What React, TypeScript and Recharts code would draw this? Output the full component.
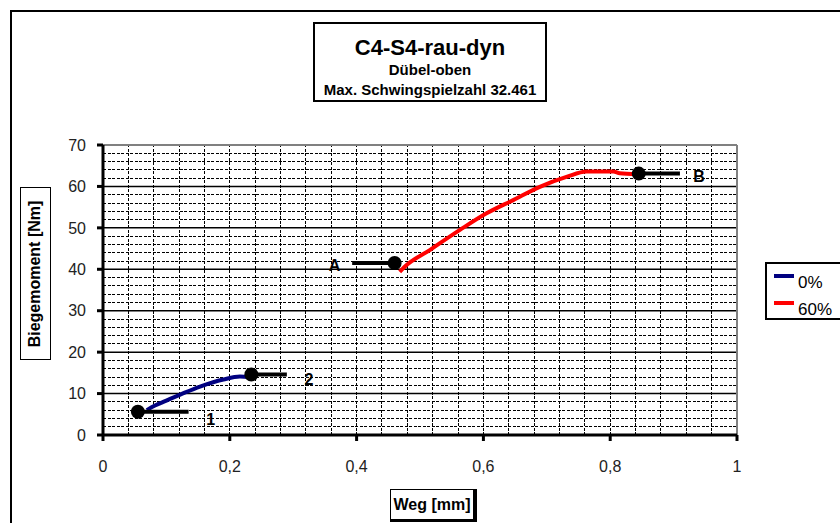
import React from 'react';
import {
  ComposedChart,
  Line,
  Scatter,
  XAxis,
  YAxis,
  ReferenceLine,
} from 'recharts';

// Weg [mm] vs. Biegemoment [Nm]
const blueSeries = [
  { x: 0.069, y: 6.0 },
  { x: 0.082, y: 7.1 },
  { x: 0.095, y: 8.0 },
  { x: 0.121, y: 9.7 },
  { x: 0.153, y: 11.7 },
  { x: 0.19, y: 13.4 },
  { x: 0.216, y: 14.1 },
  { x: 0.232, y: 13.9 },
];

const redSeries = [
  { x: 0.468, y: 39.4 },
  { x: 0.475, y: 40.5 },
  { x: 0.516, y: 44.7 },
  { x: 0.563, y: 49.5 },
  { x: 0.605, y: 53.5 },
  { x: 0.647, y: 56.7 },
  { x: 0.689, y: 59.9 },
  { x: 0.731, y: 62.3 },
  { x: 0.763, y: 63.6 },
  { x: 0.805, y: 63.6 },
  { x: 0.815, y: 63.2 },
  { x: 0.842, y: 63.0 },
];

// marked points with their leader line end and label spot
const markers = [
  { name: '1', x: 0.055, y: 5.6, lineTo: 0.135, labelX: 0.17, labelY: 3.8 },
  { name: '2', x: 0.234, y: 14.6, lineTo: 0.29, labelX: 0.325, labelY: 13.4 },
  { name: 'A', x: 0.46, y: 41.5, lineTo: 0.393, labelX: 0.365, labelY: 40.8 },
  { name: 'B', x: 0.845, y: 63.1, lineTo: 0.91, labelX: 0.94, labelY: 62.3 },
];

const legendItems = [
  { label: '0%', color: '#000080' },
  { label: '60%', color: '#ff0000' },
];

const xTicks = [0, 0.2, 0.4, 0.6, 0.8, 1];
const yTicks = [0, 10, 20, 30, 40, 50, 60, 70];

// excel-style grid: dashed every 2 Nm / 0.04 mm, solid every 10 Nm
const minorY: number[] = [];
for (let v = 2; v < 70; v += 2) if (v % 10 !== 0) minorY.push(v);
const minorX: number[] = [];
for (let i = 1; i < 25; i++) minorX.push(+(i * 0.04).toFixed(2));
const majorY = [10, 20, 30, 40, 50, 60];

const font = 'Arial, "Liberation Sans", sans-serif';

const labelPoints = markers.map((m) => ({ x: m.labelX, y: m.labelY, name: m.name }));

export default function App() {
  return (
    <div
      style={{
        position: 'absolute',
        left: 0,
        top: 0,
        width: 840,
        height: 523,
        overflow: 'hidden',
        background: '#fff',
        fontFamily: font,
      }}
    >
      <div
        style={{
          position: 'absolute',
          left: 10,
          top: 10,
          width: 900,
          height: 600,
          borderLeft: '2px solid #000',
          borderTop: '2px solid #000',
        }}
      />
      <ComposedChart
        width={840}
        height={523}
        margin={{ top: 145, right: 103, bottom: 58, left: 63 }}
        style={{ position: 'absolute', left: 0, top: 0 }}
      >
        <XAxis
          type="number"
          dataKey="x"
          domain={[0, 1]}
          ticks={xTicks}
          allowDataOverflow
          tickFormatter={(v: number) => String(v).replace('.', ',')}
          tick={{ fontSize: 16, fill: '#222', fontFamily: font }}
          tickSize={6}
          tickMargin={20}
          height={30}
          axisLine={{ stroke: '#000', strokeWidth: 3 }}
          tickLine={{ stroke: '#000', strokeWidth: 3 }}
        />
        <YAxis
          type="number"
          dataKey="y"
          domain={[0, 70]}
          ticks={yTicks}
          allowDataOverflow
          tick={{ fontSize: 16, fill: '#222', fontFamily: font }}
          tickSize={6}
          tickMargin={11}
          width={40}
          axisLine={{ stroke: '#000', strokeWidth: 3 }}
          tickLine={{ stroke: '#000', strokeWidth: 3 }}
        />
        {minorY.map((v) => (
          <ReferenceLine
            key={'hy' + v}
            y={v}
            stroke="#000"
            strokeWidth={1}
            strokeDasharray="3 1.5"
            shapeRendering="crispEdges"
          />
        ))}
        {minorX.map((v) => (
          <ReferenceLine
            key={'vx' + v}
            x={v}
            stroke="#000"
            strokeWidth={1}
            strokeDasharray="3 1.5"
            shapeRendering="crispEdges"
          />
        ))}
        {majorY.map((v) => (
          <ReferenceLine key={'my' + v} y={v} stroke="#000" strokeWidth={1.5} />
        ))}
        <ReferenceLine y={70} stroke="#808080" strokeWidth={2} />
        <ReferenceLine x={1} stroke="#808080" strokeWidth={2} />
        <Line
          data={blueSeries}
          dataKey="y"
          stroke="#000080"
          strokeWidth={4}
          dot={false}
          type="monotone"
          isAnimationActive={false}
        />
        <Line
          data={redSeries}
          dataKey="y"
          stroke="#ff0000"
          strokeWidth={4}
          dot={false}
          type="monotone"
          isAnimationActive={false}
        />
        {markers.map((m) => (
          <ReferenceLine
            key={'seg' + m.name}
            segment={[
              { x: m.x, y: m.y },
              { x: m.lineTo, y: m.y },
            ]}
            stroke="#000"
            strokeWidth={4}
          />
        ))}
        <Scatter
          data={markers}
          fill="#000"
          isAnimationActive={false}
          shape={(p: any) => <circle cx={p.cx} cy={p.cy} r={7} fill="#000" />}
        />
        <Scatter
          data={labelPoints}
          isAnimationActive={false}
          shape={(p: any) => (
            <text
              x={p.cx}
              y={p.cy}
              textAnchor="middle"
              dominantBaseline="central"
              fontSize={16}
              fontWeight="bold"
              fontFamily={font}
              fill="#000"
            >
              {p.payload.name}
            </text>
          )}
        />
      </ComposedChart>

      {/* title box */}
      <div
        style={{
          position: 'absolute',
          left: 313,
          top: 22,
          width: 230,
          height: 76,
          border: '2px solid #000',
          background: '#fff',
          textAlign: 'center',
          fontWeight: 'bold',
        }}
      >
        <div style={{ fontSize: 22, lineHeight: '24px', marginTop: 12 }}>C4-S4-rau-dyn</div>
        <div style={{ fontSize: 15, lineHeight: '20px' }}>Dübel-oben</div>
        <div style={{ fontSize: 15, lineHeight: '20px', whiteSpace: 'nowrap' }}>
          Max. Schwingspielzahl 32.461
        </div>
      </div>

      {/* y axis title */}
      <div
        style={{
          position: 'absolute',
          left: 20,
          top: 187,
          width: 29,
          height: 171,
          border: '1.5px solid #000',
          display: 'flex',
          alignItems: 'center',
          justifyContent: 'center',
        }}
      >
        <div
          style={{
            transform: 'rotate(-90deg)',
            whiteSpace: 'nowrap',
            fontSize: 16,
            fontWeight: 'bold',
          }}
        >
          Biegemoment [Nm]
        </div>
      </div>

      {/* x axis title */}
      <div
        style={{
          position: 'absolute',
          left: 390,
          top: 489,
          width: 82,
          height: 29,
          border: '1.5px solid #000',
          borderRight: '4px solid #000',
          borderBottom: '3px solid #000',
          fontSize: 16,
          fontWeight: 'bold',
          lineHeight: '29px',
          textAlign: 'center',
        }}
      >
        Weg [mm]
      </div>

      {/* legend */}
      <div
        style={{
          position: 'absolute',
          left: 765,
          top: 262,
          width: 100,
          height: 54,
          border: '2px solid #000',
          fontSize: 17,
        }}
      >
        {legendItems.map((it, i) => (
          <div
            key={it.label}
            style={{ position: 'absolute', left: 7, top: 12 + i * 27 - 10, height: 20, display: 'flex', alignItems: 'center' }}
          >
            <div style={{ width: 20, height: 4, background: it.color, marginRight: 4 }} />
            <span style={{ lineHeight: '20px', position: 'relative', top: 7 }}>{it.label}</span>
          </div>
        ))}
      </div>
    </div>
  );
}
